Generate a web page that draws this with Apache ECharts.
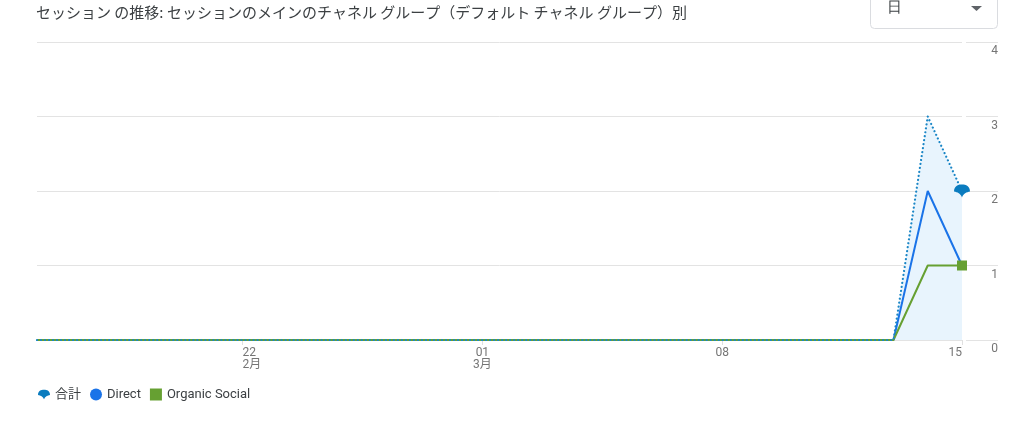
<!DOCTYPE html>
<html>
<head>
<meta charset="utf-8">
<script src="https://cdn.jsdelivr.net/npm/echarts@6/dist/echarts.min.js"></script>
<style>
html,body{margin:0;padding:0;background:#fff;}
#chart{width:1024px;height:430px;}
</style>
</head>
<body>
<div id="chart"></div>
<script>
const titleText = 'セッション の推移: セッションのメインのチャネル グループ（デフォルト チャネル グループ）別';
const days = ['02-16','02-17','02-18','02-19','02-20','02-21','02-22','02-23','02-24','02-25','02-26','02-27','02-28',
              '03-01','03-02','03-03','03-04','03-05','03-06','03-07','03-08','03-09','03-10','03-11','03-12','03-13','03-14','03-15'];
const tickLabels = {'02-22':'22\n2月','03-01':'01\n3月','03-08':'08','03-15':'15'};
const totalSeries = [0,0,0,0,0,0,0,0,0,0,0,0,0,0,0,0,0,0,0,0,0,0,0,0,0,0,3,2];
const directSeries = [0,0,0,0,0,0,0,0,0,0,0,0,0,0,0,0,0,0,0,0,0,0,0,0,0,0,2,1];
const organicSeries = [0,0,0,0,0,0,0,0,0,0,0,0,0,0,0,0,0,0,0,0,0,0,0,0,0,0,1,1];
const seriesNames = ['合計','Direct','Organic Social'];
const yTicks = {min:0,max:4,interval:1};

const FONT = 'Roboto, "Noto Sans CJK JP", sans-serif';
const dropPath = 'path://M0,6 C0,1.5 3.5,0 7,0 C10.5,0 14,1.5 14,6 C11,6.6 8.2,7.6 7,11 C5.8,7.6 3,6.6 0,6 Z';
const cTotal = '#0b7cbf', cDirect = '#1a73e8', cOrganic = '#66a032';
const lastIdx = days.length - 1;
const showTick = (i, v) => tickLabels[v] !== undefined;
const endOnly = size => (val, p) => p.dataIndex === lastIdx ? size : 0;

const chart = echarts.init(document.getElementById('chart'), null, {renderer:'canvas'});
chart.setOption({
  animation:false,
  textStyle:{fontFamily:FONT},
  title:{text:titleText,left:31,top:0,textStyle:{fontSize:15,fontWeight:'normal',color:'#3c4043',fontFamily:'"Noto Sans CJK JP", Roboto, sans-serif'}},
  legend:{left:33,top:383,itemWidth:12,itemHeight:12,itemGap:9,
    textStyle:{fontSize:13,color:'#3c4043',fontFamily:FONT},
    data:[
      {name:seriesNames[0],icon:dropPath,itemStyle:{color:cTotal}},
      {name:seriesNames[1],icon:'circle',itemStyle:{color:cDirect}},
      {name:seriesNames[2],icon:'rect',itemStyle:{color:cOrganic}}
    ]},
  graphic:[
    {type:'rect',shape:{x:870.5,y:-10,width:127,height:38.5,r:4},style:{fill:'#fff',stroke:'#dadce0',lineWidth:1},z:10},
    {type:'text',x:887,y:8,style:{text:'日',fontSize:15,fill:'#3c4043',verticalAlign:'middle',font:'15px "Noto Sans CJK JP"'},z:11},
    {type:'polygon',shape:{points:[[971,6],[982,6],[976.5,11]]},style:{fill:'#5f6368'},z:11}
  ],
  grid:[
    {left:37,right:62,top:42,bottom:90},
    {left:966,right:26,top:42,bottom:90}
  ],
  xAxis:[
    {type:'category',gridIndex:0,data:days,boundaryGap:false,
     axisLine:{show:false},
     axisTick:{show:true,interval:showTick,length:5,lineStyle:{color:'#e0e0e0'}},
     axisLabel:{interval:showTick,formatter:v=>tickLabels[v]||'',margin:7,fontSize:12,lineHeight:12,color:'#757575',
       alignMinLabel:'left',alignMaxLabel:'right',fontFamily:FONT},
     splitLine:{show:false}},
    {type:'value',gridIndex:1,min:0,max:1,show:false}
  ],
  yAxis:[
    {type:'value',gridIndex:0,position:'right',min:yTicks.min,max:yTicks.max,interval:yTicks.interval,
     axisLine:{show:false},axisTick:{show:false},
     axisLabel:{align:'right',margin:36,verticalAlign:'top',padding:[3,0,0,0],fontSize:12,color:'#757575',fontFamily:FONT},
     splitLine:{lineStyle:{color:'#e3e3e3',width:1}}},
    {type:'value',gridIndex:1,min:yTicks.min,max:yTicks.max,interval:yTicks.interval,
     axisLine:{show:false},axisTick:{show:false},axisLabel:{show:false},
     splitLine:{lineStyle:{color:'#e3e3e3',width:1}}}
  ],
  series:[
    {name:seriesNames[0],type:'line',data:totalSeries,symbol:'none',silent:true,z:1,
     lineStyle:{width:0,opacity:0},areaStyle:{color:'#e8f4fd',opacity:1}},
    {name:seriesNames[1],type:'line',data:directSeries,z:2,
     symbol:'circle',symbolSize:endOnly(9),showAllSymbol:true,
     itemStyle:{color:cDirect},lineStyle:{color:cDirect,width:2}},
    {name:seriesNames[2],type:'line',data:organicSeries,z:3,
     symbol:'rect',symbolSize:endOnly(10),showAllSymbol:true,
     itemStyle:{color:cOrganic},lineStyle:{color:cOrganic,width:2}},
    {name:seriesNames[0],type:'line',data:totalSeries,z:4,
     symbol:dropPath,symbolSize:(v,p)=>p.dataIndex===lastIdx?[16,13]:0,showAllSymbol:true,
     itemStyle:{color:cTotal},lineStyle:{color:'#1a86c6',width:2.2,type:[0.01,4],cap:'round'}}
  ]
});
</script>
</body>
</html>
